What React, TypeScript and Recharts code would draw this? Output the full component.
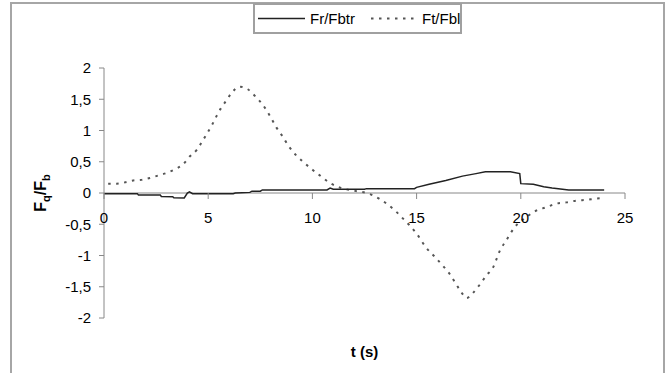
import React from "react";
import { LineChart, Line, XAxis, YAxis, ReferenceLine, Legend } from "recharts";

// Fr/Fbtr (solid)
const frTime = [0, 1.6, 1.65, 2.7, 2.75, 3.3, 3.35, 3.85, 4.0, 4.1, 4.25, 6.2, 6.3, 7.0, 7.1, 7.5, 7.6, 10.7, 10.85, 11.0, 12.5, 12.6, 14.9, 15.0, 15.6, 16.4, 17.2, 17.85, 18.3, 19.5, 19.95, 20.0, 20.6, 21.1, 21.5, 22.3, 24.0];
const frValue = [-0.01, -0.01, -0.03, -0.03, -0.055, -0.06, -0.075, -0.08, 0.0, 0.02, -0.01, -0.01, 0.0, 0.01, 0.03, 0.03, 0.05, 0.05, 0.08, 0.06, 0.06, 0.07, 0.07, 0.09, 0.14, 0.2, 0.27, 0.31, 0.34, 0.34, 0.31, 0.15, 0.14, 0.1, 0.08, 0.05, 0.05];

// Ft/Fbl (dotted)
const ftTime = [0.2, 0.6, 1.0, 1.4, 1.8, 2.2, 2.6, 3.0, 3.4, 3.8, 4.1, 4.45, 4.72, 4.96, 5.2, 5.4, 5.6, 5.85, 6.1, 6.5, 6.9, 7.25, 7.6, 7.95, 8.27, 8.58, 8.86, 9.2, 9.55, 9.9, 10.4, 10.84, 11.5, 12.1, 12.6, 13.2, 13.96, 14.35, 14.67, 15.0, 15.45, 15.9, 16.25, 16.6, 16.9, 17.15, 17.4, 17.7, 18.0, 18.35, 18.67, 19.0, 19.3, 19.7, 20.25, 20.75, 21.2, 21.7, 22.2, 22.7, 23.15, 23.6, 24.0];
const ftValue = [0.15, 0.15, 0.17, 0.2, 0.21, 0.24, 0.28, 0.32, 0.38, 0.46, 0.58, 0.69, 0.83, 0.96, 1.1, 1.23, 1.35, 1.47, 1.59, 1.7, 1.66, 1.55, 1.42, 1.24, 1.05, 0.9, 0.75, 0.61, 0.5, 0.4, 0.27, 0.16, 0.07, 0.03, 0.0, -0.09, -0.28, -0.41, -0.52, -0.65, -0.87, -1.03, -1.16, -1.3, -1.46, -1.59, -1.68, -1.6, -1.48, -1.32, -1.19, -0.92, -0.76, -0.55, -0.39, -0.28, -0.23, -0.17, -0.15, -0.12, -0.11, -0.09, -0.08];

const xTicks = [0, 5, 10, 15, 20, 25];
const yTicks = [-2, -1.5, -1, -0.5, 0, 0.5, 1, 1.5, 2];
const seriesNames = ["Fr/Fbtr", "Ft/Fbl"];

const frData = frTime.map((t, i) => ({ t, v: frValue[i] }));
const ftData = ftTime.map((t, i) => ({ t, v: ftValue[i] }));

const W = 668;
const H = 373;
const MT = 68;
const MB = 25;
const XH = 30;
const MR = 43;
const YW = 104;
const PLOT_H = H - MT - MB - XH;
const ZERO_Y = MT + PLOT_H / 2;
const FONT = "'Liberation Sans', Arial, sans-serif";
const AXIS = "#888888";

const fmt = (v: number) => String(v).replace(".", ",");

const XTick = (props: any) => {
  const { x, payload } = props;
  return (
    <g>
      <line x1={x} x2={x} y1={ZERO_Y} y2={ZERO_Y + 6} stroke={AXIS} strokeWidth={1} />
      <text x={x} y={ZERO_Y + 30} textAnchor="middle" fontSize={15} fontFamily={FONT} fill="#000">
        {fmt(payload.value)}
      </text>
    </g>
  );
};

const XLabel = (props: any) => {
  const vb = props.viewBox || {};
  return (
    <text x={vb.x + vb.width / 2} y={vb.y + 39} textAnchor="middle" fontSize={15} fontWeight="bold" fontFamily={FONT} fill="#000">
      t (s)
    </text>
  );
};

const YLabel = () => {
  const cx = 46;
  const cy = ZERO_Y;
  return (
    <text x={cx} y={cy} transform={`rotate(-90 ${cx} ${cy})`} textAnchor="middle" fontSize={16} fontWeight="bold" fontFamily={FONT} fill="#000">
      F<tspan dy={4} fontSize={11}>q</tspan>
      <tspan dy={-4}>/F</tspan>
      <tspan dy={4} fontSize={11}>b</tspan>
    </text>
  );
};

const LegendBox = () => (
  <svg width={209} height={31} style={{ display: "block" }}>
    <rect x={1} y={1} width={207} height={29} fill="#fff" stroke="#a0a0a0" strokeWidth={2} />
    <line x1={5} x2={52} y1={15.5} y2={15.5} stroke="#222" strokeWidth={1.5} />
    <text x={57} y={21} fontSize={15} fontFamily={FONT} fill="#000">{seriesNames[0]}</text>
    <line x1={118} x2={166} y1={15.5} y2={15.5} stroke="#555" strokeWidth={2} strokeDasharray="2.5 5.5" />
    <text x={169} y={21} fontSize={15} fontFamily={FONT} fill="#000">{seriesNames[1]}</text>
  </svg>
);

export default function App() {
  return (
    <div style={{ position: "absolute", left: 0, top: 0, width: W, height: H, overflow: "hidden", background: "#fff" }}>
      <div
        style={{
          position: "absolute",
          left: 10,
          top: 2,
          width: 655,
          height: H,
          borderLeft: "2px solid #a6a6a6",
          borderRight: "2px solid #a6a6a6",
          borderTop: "2px solid #a6a6a6",
          boxSizing: "border-box",
        }}
      />
      <div style={{ position: "absolute", left: 0, top: 0 }}>
        <LineChart width={W} height={H} margin={{ top: MT, right: MR, bottom: MB, left: 0 }}>
          <XAxis
            dataKey="t"
            type="number"
            domain={[0, 25]}
            ticks={xTicks}
            allowDuplicatedCategory={false}
            height={XH}
            axisLine={false}
            tickLine={false}
            tick={<XTick />}
            interval={0}
            label={<XLabel />}
          />
          <YAxis
            type="number"
            domain={[-2, 2]}
            ticks={yTicks}
            width={YW}
            interval={0}
            axisLine={{ stroke: AXIS, strokeWidth: 1 }}
            tickLine={{ stroke: AXIS, strokeWidth: 1 }}
            tickSize={5}
            tickMargin={8}
            tickFormatter={fmt}
            tick={{ fontSize: 15, fontFamily: FONT, fill: "#000" }}
            label={<YLabel />}
          />
          <ReferenceLine y={0} stroke={AXIS} strokeWidth={1} />
          <Line
            data={ftData}
            dataKey="v"
            name={seriesNames[1]}
            type="monotone"
            stroke="#555"
            strokeWidth={2}
            strokeDasharray="2.5 5.5"
            dot={false}
            isAnimationActive={false}
          />
          <Line
            data={frData}
            dataKey="v"
            name={seriesNames[0]}
            type="linear"
            stroke="#222"
            strokeWidth={1.5}
            dot={false}
            isAnimationActive={false}
          />
          <Legend
            layout="horizontal"
            verticalAlign="middle"
            align="center"
            content={<LegendBox />}
            wrapperStyle={{ position: "absolute", left: 253, top: 3, width: 209, height: 31 }}
          />
        </LineChart>
      </div>
    </div>
  );
}
